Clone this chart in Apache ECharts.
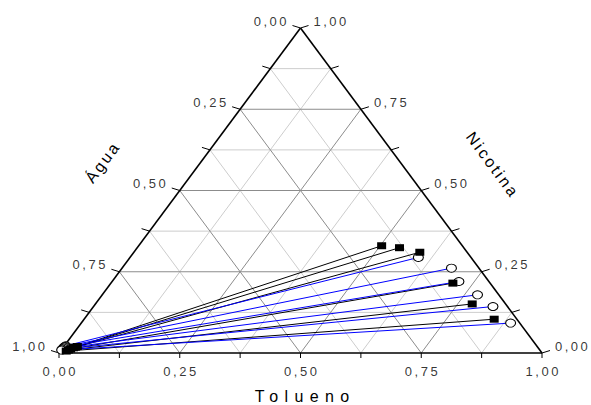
<!DOCTYPE html>
<html><head><meta charset="utf-8">
<script src="https://cdn.jsdelivr.net/npm/echarts@6/dist/echarts.min.js"></script>
<style>html,body{margin:0;padding:0;background:#fff}#c{width:591px;height:405px}</style>
</head><body><div id="c"></div>
<script>
// Tie lines: mass fractions (Tolueno, Nicotina; Água = 1 - both)
// Series A (black lines, filled squares)
const sqOrgTolueno  = [0.503, 0.543, 0.592, 0.708, 0.780, 0.849];
const sqOrgNicotina = [0.330, 0.324, 0.310, 0.215, 0.151, 0.104];
const sqAqTolueno   = [0.028, 0.025, 0.022, 0.018, 0.015, 0.012];
const sqAqNicotina  = [0.020, 0.018, 0.016, 0.012, 0.009, 0.006];
// Series B (blue lines, open circles)
const ciOrgTolueno  = [0.597, 0.682, 0.718, 0.777, 0.827, 0.889];
const ciOrgNicotina = [0.294, 0.261, 0.220, 0.179, 0.143, 0.092];
const ciAqTolueno   = [0.003, 0.003, 0.002, 0.002, 0.001, 0.001];
const ciAqNicotina  = [0.022, 0.020, 0.018, 0.015, 0.012, 0.009];
// Axis ticks
const tickValues = [0, 0.25, 0.5, 0.75, 1];
const tickLabels = ['0,00', '0,25', '0,50', '0,75', '1,00'];
const titleBottom = 'Tolueno';
const titleLeft = 'Água';
const titleRight = 'Nicotina';

// ternary (tolueno, nicotina) -> cartesian
function tern(t, n) { return [t + n / 2, n]; }

const FONT = 'Liberation Sans, Arial, sans-serif';

function renderFrame(params, api) {
  const P = (t, n) => api.coord(tern(t, n));
  const minor = [], major = [], frame = [];
  const seg = (arr, a, b, stroke, w) => arr.push({
    type: 'line', shape: { x1: a[0], y1: a[1], x2: b[0], y2: b[1] },
    style: { stroke: stroke, lineWidth: w }
  });
  for (let k = 1; k < 8; k++) {
    const v = k / 8;
    const arr = k % 2 === 0 ? major : minor;
    const col = k % 2 === 0 ? '#8c8c8c' : '#cdcdcd';
    seg(arr, P(0, v), P(1 - v, v), col, 1);       // nicotina const
    seg(arr, P(v, 0), P(v, 1 - v), col, 1);       // tolueno const
    seg(arr, P(1 - v, 0), P(0, 1 - v), col, 1);   // água const
  }
  // triangle
  const A = P(0, 0), B = P(1, 0), C = P(0, 1);
  seg(frame, A, B, '#000', 1.6);
  seg(frame, B, C, '#000', 1.6);
  seg(frame, C, A, '#000', 1.6);
  // ticks
  for (let k = 0; k <= 8; k++) {
    const v = k / 8;
    const b = P(v, 0); seg(frame, b, [b[0], b[1] + 5], '#000', 1);
    const l = P(0, 1 - v); seg(frame, l, [l[0] - 8, l[1] - 2.5], '#000', 1);
    const r = P(1 - v, v); seg(frame, r, [r[0] + 8, r[1] - 2.5], '#000', 1);
  }
  return { type: 'group', children: minor.concat(major, frame) };
}

const lblStyle = { show: true, position: 'inside', color: '#000', fontSize: 13, fontFamily: FONT };

const bottomTicks = tickValues.map((v, i) => ({ value: tern(v, 0), label: { formatter: tickLabels[i] } }));
const leftTicks = tickValues.map((v, i) => ({ value: tern(0, 1 - v), label: { formatter: tickLabels[i] } }));
const rightTicks = tickValues.map((v, i) => ({ value: tern(1 - v, v), label: { formatter: tickLabels[i] } }));

const sqLines = sqOrgTolueno.map((t, i) => ({ coords: [tern(sqAqTolueno[i], sqAqNicotina[i]), tern(t, sqOrgNicotina[i])] }));
const ciLines = ciOrgTolueno.map((t, i) => ({ coords: [tern(ciAqTolueno[i], ciAqNicotina[i]), tern(t, ciOrgNicotina[i])] }));
const sqPts = [], ciPts = [];
sqOrgTolueno.forEach((t, i) => { sqPts.push(tern(t, sqOrgNicotina[i])); sqPts.push(tern(sqAqTolueno[i], sqAqNicotina[i])); });
ciOrgTolueno.forEach((t, i) => { ciPts.push(tern(t, ciOrgNicotina[i])); ciPts.push(tern(ciAqTolueno[i], ciAqNicotina[i])); });

const chart = echarts.init(document.getElementById('c'), null, { renderer: 'svg' });
chart.setOption({
  animation: false,
  backgroundColor: '#fff',
  grid: { left: 59, right: 49, top: 28, bottom: 52 },
  xAxis: { type: 'value', min: 0, max: 1, show: false },
  yAxis: { type: 'value', min: 0, max: 1, show: false },
  graphic: [
    { type: 'text', x: 302, y: 396, style: { text: titleBottom, font: '16px ' + FONT, fill: '#000', align: 'center', verticalAlign: 'middle' } },
    { type: 'text', x: 102, y: 163, rotation: 53.4 * Math.PI / 180, style: { text: titleLeft, font: '16px ' + FONT, fill: '#000', align: 'center', verticalAlign: 'middle' } },
    { type: 'text', x: 492, y: 164, rotation: -53.4 * Math.PI / 180, style: { text: titleRight, font: '16px ' + FONT, fill: '#000', align: 'center', verticalAlign: 'middle' } }
  ],
  series: [
    { type: 'custom', renderItem: renderFrame, data: [[0, 0]], silent: true, clip: false, z: 1 },
    { type: 'lines', coordinateSystem: 'cartesian2d', data: sqLines, lineStyle: { color: '#000', width: 1, opacity: 1 }, z: 3 },
    { type: 'lines', coordinateSystem: 'cartesian2d', data: ciLines, lineStyle: { color: '#0000ff', width: 1, opacity: 1 }, z: 3 },
    { type: 'scatter', data: ciPts, symbol: 'circle', symbolSize: [10, 8], itemStyle: { color: '#fff', borderColor: '#000', borderWidth: 1, opacity: 1 }, z: 4, clip: false },
    { type: 'scatter', data: sqPts, symbol: 'rect', symbolSize: [9, 7], itemStyle: { color: '#000', opacity: 1 }, z: 5, clip: false },
    { type: 'scatter', data: bottomTicks, symbolSize: 0, clip: false, silent: true, label: Object.assign({}, lblStyle, { offset: [0, 18], align: 'center', verticalAlign: 'middle' }) },
    { type: 'scatter', data: leftTicks, symbolSize: 0, clip: false, silent: true, label: Object.assign({}, lblStyle, { offset: [-14, -7], align: 'right', verticalAlign: 'middle' }) },
    { type: 'scatter', data: rightTicks, symbolSize: 0, clip: false, silent: true, label: Object.assign({}, lblStyle, { offset: [13, -7], align: 'left', verticalAlign: 'middle' }) }
  ]
});

function spaceText() {
  document.querySelectorAll('#c svg text').forEach(el => {
    const s = el.textContent;
    let ls = 0;
    if (/^\d,\d\d$/.test(s)) ls = 2.5;
    else if (s === titleBottom) ls = 6.4;
    else if (s === titleLeft || s === titleRight) ls = 2.5;
    if (!ls) return;
    el.style.letterSpacing = ls + 'px';
    const anchor = el.getAttribute('text-anchor') || el.style.textAnchor;
    if (anchor === 'middle') el.setAttribute('dx', ls / 2);
    else if (anchor === 'end') el.setAttribute('dx', ls);
  });
}
spaceText();
chart.on('finished', spaceText);
</script>
</body></html>
